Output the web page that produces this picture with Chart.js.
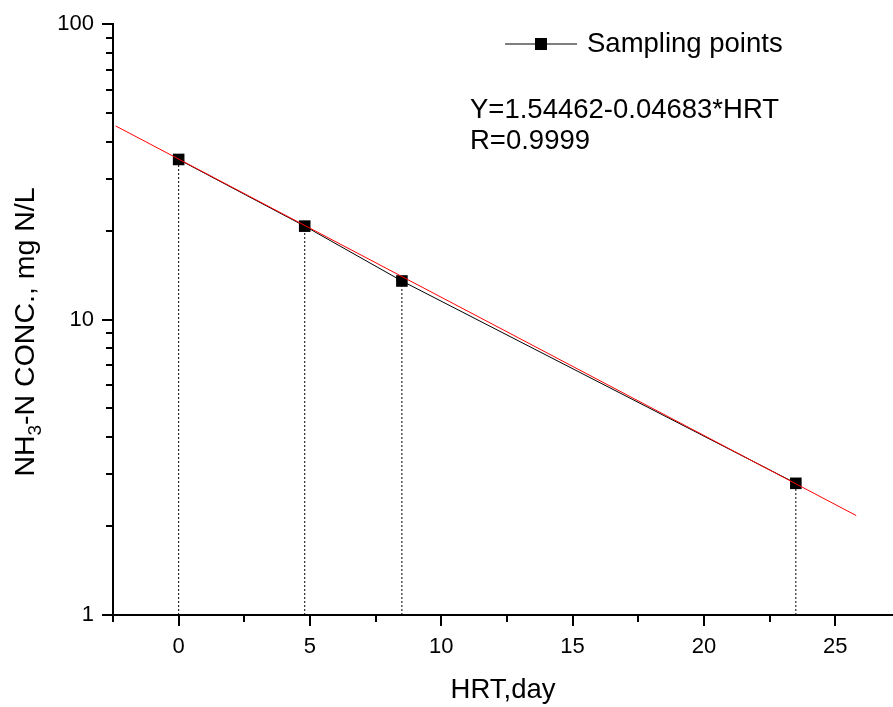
<!DOCTYPE html>
<html lang="en">

<head>
    <meta charset="UTF-8">
    <title>NH3-N concentration vs HRT</title>
    <script src="https://cdn.jsdelivr.net/npm/chart.js"></script>
    <style>
        html, body { margin: 0; padding: 0; background: #fff; }
        #wrap { width: 893px; height: 707px; position: relative; }
    </style>
</head>

<body>
    <div id="wrap">
        <canvas id="hrtChart"></canvas>
    </div>

    <script>
        // sampling points
        const hrt = [0, 4.8, 8.5, 23.5];
        const conc = [34.8, 20.7, 13.5, 2.79];

        // fitted line end points
        const fitHrt = [-2.4, 25.8];
        const fitConc = [45.2, 2.17];

        const xTicks = [-2.5, 0, 2.5, 5, 7.5, 10, 12.5, 15, 17.5, 20, 22.5, 25];
        const xLabels = [0, 5, 10, 15, 20, 25];
        const yTicks = [1, 2, 3, 4, 5, 6, 7, 8, 9, 10, 20, 30, 40, 50, 60, 70, 80, 90, 100];
        const yLabels = [1, 10, 100];

        const seriesName = 'Sampling points';
        const fitText = ['Y=1.54462-0.04683*HRT', 'R=0.9999'];

        const FONT = '"Liberation Sans", Arial, sans-serif';

        const samples = hrt.map((x, i) => ({ x: x, y: conc[i] }));
        const fit = fitHrt.map((x, i) => ({ x: x, y: fitConc[i] }));

        // dotted drop lines from each point to the x axis
        const drops = hrt.map((x, i) => ({
            data: [{ x: x, y: yTicks[0] }, { x: x, y: conc[i] }],
            borderColor: '#000',
            borderWidth: 1,
            borderDash: [2, 2],
            pointRadius: 0,
            order: 3
        }));

        // outward tick marks, long for major, short for minor
        const tickMarks = {
            id: 'tickMarks',
            afterDraw(chart) {
                const ctx = chart.ctx;
                const area = chart.chartArea;
                const xs = chart.scales.x;
                const ys = chart.scales.y;
                ctx.save();
                ctx.strokeStyle = '#000';
                ctx.lineWidth = 2;
                xs.ticks.forEach(t => {
                    const px = Math.round(xs.getPixelForValue(t.value));
                    const len = xLabels.includes(t.value) ? 11 : 7;
                    ctx.beginPath();
                    ctx.moveTo(px, area.bottom);
                    ctx.lineTo(px, area.bottom + len);
                    ctx.stroke();
                });
                ys.ticks.forEach(t => {
                    const py = Math.round(ys.getPixelForValue(t.value));
                    const len = yLabels.includes(t.value) ? 11 : 7;
                    ctx.beginPath();
                    ctx.moveTo(area.left, py);
                    ctx.lineTo(area.left - len, py);
                    ctx.stroke();
                });
                ctx.restore();
            }
        };

        // legend, fit equation and y title with subscript
        const annotations = {
            id: 'annotations',
            afterDraw(chart) {
                const ctx = chart.ctx;
                ctx.save();
                ctx.fillStyle = '#000';
                ctx.strokeStyle = '#000';

                ctx.lineWidth = 1;
                ctx.beginPath();
                ctx.moveTo(505, 44);
                ctx.lineTo(577, 44);
                ctx.stroke();
                ctx.fillRect(535, 38, 12, 12);

                ctx.font = '27.5px ' + FONT;
                ctx.textBaseline = 'middle';
                ctx.textAlign = 'left';
                ctx.fillText(seriesName, 587, 44);
                ctx.fillText(fitText[0], 470, 110);
                ctx.fillText(fitText[1], 470, 141);

                // y axis title
                ctx.translate(34, 332);
                ctx.rotate(-Math.PI / 2);
                ctx.textBaseline = 'alphabetic';
                const big = '28.5px ' + FONT;
                const small = '19px ' + FONT;
                const parts = [['NH', big, 0], ['3', small, 7], ['-N CONC., mg N/L', big, 0]];
                let total = 0;
                parts.forEach(p => { ctx.font = p[1]; total += ctx.measureText(p[0]).width; });
                let lx = -total / 2;
                parts.forEach(p => {
                    ctx.font = p[1];
                    ctx.fillText(p[0], lx, p[2]);
                    lx += ctx.measureText(p[0]).width;
                });
                ctx.restore();
            }
        };

        new Chart(document.getElementById('hrtChart'), {
            type: 'line',
            data: {
                datasets: [{
                    label: seriesName,
                    data: samples,
                    borderColor: '#000',
                    backgroundColor: '#000',
                    borderWidth: 1,
                    pointStyle: 'rect',
                    pointRadius: 8.2,
                    pointBorderWidth: 0,
                    pointHoverRadius: 8.2,
                    order: 1
                }, {
                    label: 'fit',
                    data: fit,
                    borderColor: '#ff0000',
                    borderWidth: 1,
                    pointRadius: 0,
                    order: 0
                }, ...drops]
            },
            options: {
                responsive: true,
                maintainAspectRatio: false,
                animation: false,
                layout: { autoPadding: false, padding: { top: 24, right: 0, left: 0, bottom: 0 } },
                plugins: {
                    legend: { display: false },
                    tooltip: { enabled: false }
                },
                scales: {
                    x: {
                        type: 'linear',
                        min: -2.5,
                        max: 27.2,
                        afterBuildTicks: s => { s.ticks = xTicks.map(v => ({ value: v })); },
                        afterFit: s => { s.height = 92; s.paddingLeft = 0; s.paddingRight = 0; },
                        grid: { display: false, drawTicks: false },
                        border: { display: true, color: '#000', width: 2 },
                        ticks: {
                            autoSkip: false,
                            maxRotation: 0,
                            padding: 19,
                            color: '#000',
                            font: { family: FONT, size: 22 },
                            callback: v => xLabels.includes(v) ? String(v) : ''
                        },
                        title: {
                            display: true,
                            text: 'HRT,day',
                            color: '#000',
                            font: { family: FONT, size: 27.5 },
                            padding: { top: 0, bottom: 0 }
                        }
                    },
                    y: {
                        type: 'logarithmic',
                        min: 1,
                        max: 100,
                        afterBuildTicks: s => { s.ticks = yTicks.map(v => ({ value: v })); },
                        afterFit: s => { s.width = 113; s.paddingTop = 0; s.paddingBottom = 0; },
                        grid: { display: false, drawTicks: false },
                        border: { display: true, color: '#000', width: 2 },
                        ticks: {
                            autoSkip: false,
                            padding: 19,
                            color: '#000',
                            font: { family: FONT, size: 22 },
                            callback: v => yLabels.includes(v) ? String(v) : ''
                        }
                    }
                }
            },
            plugins: [tickMarks, annotations]
        });
    </script>
</body>

</html>
